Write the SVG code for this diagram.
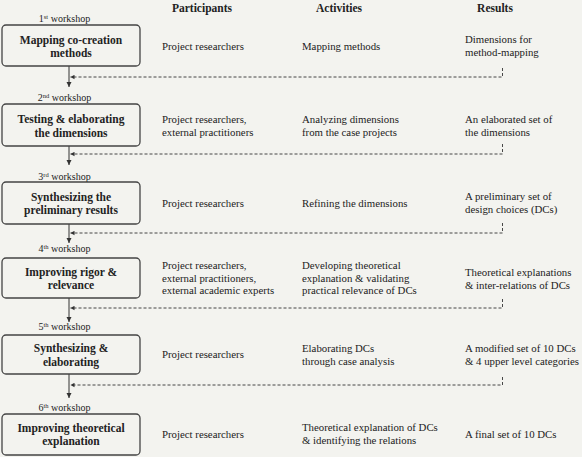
<svg xmlns="http://www.w3.org/2000/svg" width="582" height="457" viewBox="0 0 582 457" font-family="Liberation Serif, serif">
<defs>
<style>
text{font-family:'Liberation Serif','Times New Roman',serif;fill:#222;}
.hd{font-size:11.5px;font-weight:bold;text-anchor:middle;}
.bx{font-size:11.5px;font-weight:bold;text-anchor:middle;}
.tx{font-size:10.8px;}
.ws{font-size:10px;text-anchor:middle;}
.sup{font-size:6.5px;}
.box{fill:none;stroke:#444;stroke-width:1.3;}
.arr{fill:none;stroke:#333;stroke-width:1;marker-end:url(#ah);}
.dash{fill:none;stroke:#333;stroke-width:0.9;stroke-dasharray:3,2;marker-end:url(#ahl);}
</style>
<marker id="ah" markerWidth="6" markerHeight="6" refX="5" refY="3" orient="auto" markerUnits="userSpaceOnUse">
<path d="M0,0.5 L5,3 L0,5.5 Z" fill="#333"/>
</marker>
<marker id="ahl" markerWidth="5" markerHeight="5" refX="4" refY="2.5" orient="auto" markerUnits="userSpaceOnUse">
<path d="M0,0.3 L4,2.5 L0,4.7 Z" fill="#333"/>
</marker>
</defs>
<rect width="582" height="457" fill="#f3f3ef"/>
<g id="headers">
<text class="hd" x="202" y="12">Participants</text>
<text class="hd" x="339" y="12">Activities</text>
<text class="hd" x="495" y="12">Results</text>
</g>
<g id="connectors">
<path class="arr" d="M69,66 V87"/>
<path class="arr" d="M69,146 V165"/>
<path class="arr" d="M69,224 V243"/>
<path class="arr" d="M69,298 V322"/>
<path class="arr" d="M69,374 V398"/>
<path class="dash" d="M502.5,68 V77 H70.5"/>
<path class="dash" d="M502.5,144 V154 H70.5"/>
<path class="dash" d="M502.5,223 V233 H70.5"/>
<path class="dash" d="M502.5,299 V308 H70.5"/>
<path class="dash" d="M502.5,377 V385 H70.5"/>
</g>
<g id="ws1">
<text class="ws" x="64.5" y="22">1<tspan class="sup" dy="-3.5">st</tspan><tspan dy="3.5"> workshop</tspan></text>
<rect class="box" x="2" y="25" width="138" height="41" rx="4"/>
<text class="bx" x="71" y="43.5">Mapping co-creation</text>
<text class="bx" x="71" y="57">methods</text>
<text class="tx" x="162" y="50">Project researchers</text>
<text class="tx" x="302" y="50">Mapping methods</text>
<text class="tx" x="465" y="43">Dimensions for</text>
<text class="tx" x="465" y="56">method-mapping</text>
</g>
<g id="ws2">
<text class="ws" x="64.5" y="101">2<tspan class="sup" dy="-3.5">nd</tspan><tspan dy="3.5"> workshop</tspan></text>
<rect class="box" x="2" y="104" width="138" height="42" rx="4"/>
<text class="bx" x="71" y="123">Testing &amp; elaborating</text>
<text class="bx" x="71" y="137">the dimensions</text>
<text class="tx" x="162" y="123">Project researchers,</text>
<text class="tx" x="162" y="136">external practitioners</text>
<text class="tx" x="302" y="123">Analyzing dimensions</text>
<text class="tx" x="302" y="136">from the case projects</text>
<text class="tx" x="465" y="123">An elaborated set of</text>
<text class="tx" x="465" y="136">the dimensions</text>
</g>
<g id="ws3">
<text class="ws" x="64.5" y="180">3<tspan class="sup" dy="-3.5">rd</tspan><tspan dy="3.5"> workshop</tspan></text>
<rect class="box" x="2" y="182" width="138" height="42" rx="4"/>
<text class="bx" x="71" y="201">Synthesizing the</text>
<text class="bx" x="71" y="214">preliminary results</text>
<text class="tx" x="162" y="207">Project researchers</text>
<text class="tx" x="302" y="207">Refining the dimensions</text>
<text class="tx" x="465" y="200">A preliminary set of</text>
<text class="tx" x="465" y="213">design choices (DCs)</text>
</g>
<g id="ws4">
<text class="ws" x="64.5" y="252">4<tspan class="sup" dy="-3.5">th</tspan><tspan dy="3.5"> workshop</tspan></text>
<rect class="box" x="2" y="258" width="138" height="40" rx="4"/>
<text class="bx" x="71" y="276">Improving rigor &amp;</text>
<text class="bx" x="71" y="289">relevance</text>
<text class="tx" x="162" y="269">Project researchers,</text>
<text class="tx" x="162" y="281.5">external practitioners,</text>
<text class="tx" x="162" y="294">external academic experts</text>
<text class="tx" x="302" y="269">Developing theoretical</text>
<text class="tx" x="302" y="281.5">explanation &amp; validating</text>
<text class="tx" x="302" y="294">practical relevance of DCs</text>
<text class="tx" x="465" y="276">Theoretical explanations</text>
<text class="tx" x="465" y="288.5">&amp; inter-relations of DCs</text>
</g>
<g id="ws5">
<text class="ws" x="64.5" y="330">5<tspan class="sup" dy="-3.5">th</tspan><tspan dy="3.5"> workshop</tspan></text>
<rect class="box" x="2" y="335" width="138" height="39" rx="4"/>
<text class="bx" x="71" y="352">Synthesizing &amp;</text>
<text class="bx" x="71" y="366">elaborating</text>
<text class="tx" x="162" y="358">Project researchers</text>
<text class="tx" x="302" y="351.5">Elaborating DCs</text>
<text class="tx" x="302" y="365">through case analysis</text>
<text class="tx" x="465" y="351.5">A modified set of 10 DCs</text>
<text class="tx" x="465" y="365">&amp; 4 upper level categories</text>
</g>
<g id="ws6">
<text class="ws" x="64.5" y="411">6<tspan class="sup" dy="-3.5">th</tspan><tspan dy="3.5"> workshop</tspan></text>
<rect class="box" x="2" y="414" width="138" height="41" rx="4"/>
<text class="bx" x="71" y="432">Improving theoretical</text>
<text class="bx" x="71" y="445">explanation</text>
<text class="tx" x="162" y="438">Project researchers</text>
<text class="tx" x="302" y="431">Theoretical explanation of DCs</text>
<text class="tx" x="302" y="444">&amp; identifying the relations</text>
<text class="tx" x="465" y="438">A final set of 10 DCs</text>
</g>
</svg>
